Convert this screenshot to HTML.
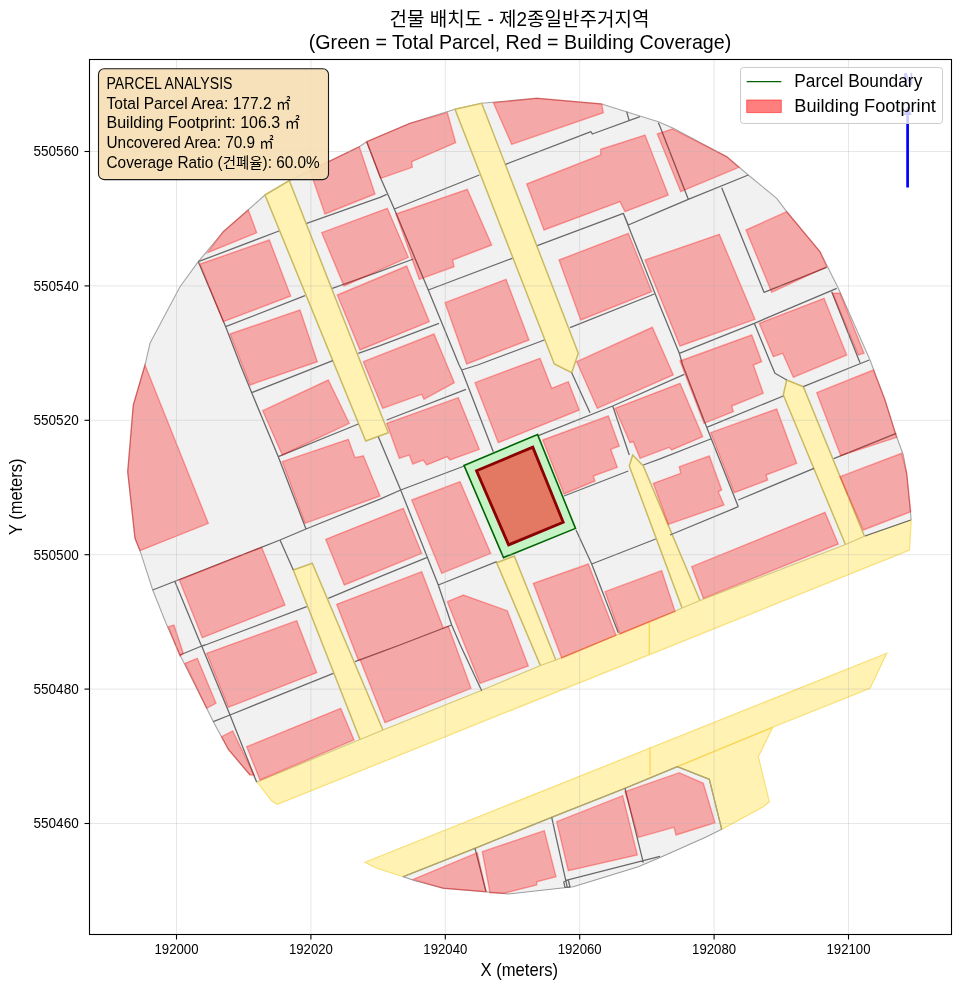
<!DOCTYPE html>
<html lang="ko"><head><meta charset="utf-8"><title>건물 배치도</title>
<style>
html,body{margin:0;padding:0;background:#fff;}
svg{display:block;will-change:transform;font-family:'Liberation Sans','Noto Sans CJK KR',sans-serif;}
text{fill:#000;}
</style></head><body>
<svg width="960" height="990" viewBox="0 0 960 990">
<rect width="960" height="990" fill="#fff"/>
<defs><clipPath id="ax"><rect x="89.5" y="59.5" width="862.0" height="875.0"/></clipPath></defs>
<g clip-path="url(#ax)">
<polygon points="250.0,775.0 228.3,749.3 213.3,721.7 206.7,708.3 180.0,655.0 166.0,623.3 152.7,590.0 140.0,550.7 135.0,538.3 127.7,471.7 133.3,405.0 145.0,365.0 150.0,343.3 180.0,286.7 198.3,261.7 223.3,231.7 265.0,195.0 289.3,180.7 359.3,146.7 366.7,141.7 410.0,123.3 455.0,109.3 481.7,103.3 536.7,98.3 601.7,104.0 658.3,121.7 673.3,128.3 726.7,156.7 748.3,175.0 776.7,198.3 786.7,211.7 820.0,251.7 838.3,288.3 870.0,360.0 885.0,400.0 896.0,435.0 903.3,455.0 906.7,473.3 911.2,520.0 911.2,520.0 864.5,536.2 845.5,544.5 700.0,600.5 682.0,608.0 675.0,611.2 617.5,634.5 555.8,660.0 540.5,665.5 481.2,690.5 383.0,730.0 360.0,739.5 257.0,782.0" fill="#f1f1f1"/>
<polyline points="250.0,775.0 228.3,749.3 213.3,721.7 206.7,708.3 180.0,655.0 166.0,623.3 152.7,590.0 140.0,550.7 135.0,538.3 127.7,471.7 133.3,405.0 145.0,365.0 150.0,343.3 180.0,286.7 198.3,261.7 223.3,231.7 265.0,195.0 289.3,180.7 359.3,146.7 366.7,141.7 410.0,123.3 455.0,109.3 481.7,103.3 536.7,98.3 601.7,104.0 658.3,121.7 673.3,128.3 726.7,156.7 748.3,175.0 776.7,198.3 786.7,211.7 820.0,251.7 838.3,288.3 870.0,360.0 885.0,400.0 896.0,435.0 903.3,455.0 906.7,473.3 911.2,520.0 911.2,520.0" fill="none" stroke="#a6a6a6" stroke-width="1.1"/>
<polygon points="365.0,862.3 886.7,653.3 870.0,688.3 772.7,727.3 677.3,766.7 625.0,788.3 551.7,817.3 475.0,848.3 403.3,876.7 376.7,868.3" fill="#fff2b2" stroke="#f8df76" stroke-width="1.2"/>
<polygon points="677.3,766.7 772.7,727.3 758.3,756.7 769.3,801.7 763.3,806.7 721.7,829.3 709.3,779.3" fill="#fff2b2" stroke="#f8df76" stroke-width="1.2"/>
<polyline points="677.3,766.7 772.7,727.3" fill="none" stroke="#f9d858" stroke-width="1.3"/>
<polygon points="403.3,876.7 415.0,880.7 443.3,888.3 485.0,891.7 508.3,894.0 573.3,886.7 638.3,866.7 661.7,856.7 706.7,836.7 721.7,829.3 709.3,779.3 677.3,766.7 625.0,788.3 551.7,817.3 475.0,848.3" fill="#f1f1f1" stroke="#9c9c9c" stroke-width="1.1"/>
<polyline points="721.7,829.3 709.3,779.3 677.3,766.7 625.0,788.3 551.7,817.3 475.0,848.3 403.3,876.7" fill="none" stroke="#b3a962" stroke-width="1.3"/>
<polygon points="265.0,195.0 289.3,180.7 388.3,432.7 365.7,441.0" fill="#fff2b2" stroke="#c9ba62" stroke-width="1.5"/>
<polygon points="455.0,109.3 481.7,103.3 578.3,353.3 571.7,372.7 554.3,364.0" fill="#fff2b2" stroke="#c9ba62" stroke-width="1.5"/>
<polygon points="293.3,570.0 312.3,563.3 384.1,732.8 361.1,742.3" fill="#fff2b2" stroke="#c9ba62" stroke-width="1.5"/>
<polygon points="496.7,562.7 514.3,556.0 556.9,662.8 541.6,668.3" fill="#fff2b2" stroke="#c9ba62" stroke-width="1.5"/>
<polygon points="632.7,455.0 643.3,466.0 701.1,603.3 683.1,610.8 629.3,466.0" fill="#fff2b2" stroke="#c9ba62" stroke-width="1.5"/>
<polygon points="786.7,380.0 803.3,386.7 865.6,539.0 846.6,547.3 783.3,395.0" fill="#fff2b2" stroke="#c9ba62" stroke-width="1.5"/>
<polygon points="257.0,782.0 360.0,739.5 383.0,730.0 481.2,690.5 540.5,665.5 555.8,660.0 617.5,634.5 675.0,611.2 682.0,608.0 700.0,600.5 845.5,544.5 864.5,536.2 911.2,520.0 909.5,550.0 277.3,804.3 271.7,801.0" fill="#fff2b2"/>
<polyline points="257.0,782.0 360.0,739.5 383.0,730.0 481.2,690.5 540.5,665.5 555.8,660.0 617.5,634.5 675.0,611.2 682.0,608.0 700.0,600.5 845.5,544.5 864.5,536.2 911.2,520.0" fill="none" stroke="#d6c978" stroke-width="1.2"/>
<polyline points="911.2,520.0 909.5,550.0 277.3,804.3 271.7,801.0 257.0,782.0" fill="none" stroke="#f8df76" stroke-width="1.2"/>
<path d="M649.3 622.5V654.5M650 747V775" stroke="#f9d858" stroke-width="1.3" fill="none"/>
<g fill="none" stroke="#6a6a6a" stroke-width="1.3" stroke-linejoin="round">
<path d="M198.3 261.7 L279.0 231.0 M198.3 261.7 L225.7 326.7 L240.4 365.0 M225.7 326.7 L305.0 295.7 M306.7 223.3 L380.0 197.3 M332.3 288.3 L380.0 271.4 M358.3 353.3 L380.0 345.6 M366.7 141.7 L380.7 178.3 L394.3 209.0 L428.3 290.0 L459.1 365.0 M380.0 197.3 L386.7 194.3 M394.3 209.0 L479.3 175.0 M380.0 271.4 L413.3 259.0 M428.3 290.0 L512.3 258.3 M380.0 345.6 L439.0 323.3 M477.6 365.0 L544.3 340.0 M505.7 164.3 L591.0 131.7 L592.3 134.0 L640.0 116.7 M626.7 111.7 L629.0 120.0 M658.3 122.7 L660.0 126.6 M537.3 245.7 L623.3 213.3 L628.3 225.0 L660.0 211.4 M623.3 213.3 L660.0 306.0 M570.0 327.7 L654.3 294.0 M660.0 126.6 L688.3 199.3 M660.0 211.4 L688.3 199.3 L748.3 175.0 M721.7 187.7 L764.0 292.3 L826.7 267.3 M660.0 306.0 L679.3 353.3 L682.7 365.0 M679.3 353.3 L754.3 323.3 L836.7 288.3 M754.3 323.3 L771.4 365.0 M831.7 291.7 L860.0 362.7 M856.8 365.0 L869.3 360.0 M240.4 365.0 L251.7 392.7 L278.3 456.7 L306.0 529.0 M251.7 392.7 L332.7 360.7 M278.3 456.7 L358.3 424.0 M306.0 529.0 L380.0 499.1 M152.7 590.0 L280.0 540.0 L306.0 529.0 M280.0 540.0 L293.3 570.0 M175.0 581.7 L201.1 645.0 M205.3 645.0 L306.7 606.7 M328.3 598.3 L380.0 576.7 M378.3 436.7 L380.0 440.7 M459.1 365.0 L461.7 370.0 L493.3 451.7 M461.7 370.0 L477.6 365.0 M386.7 420.0 L466.0 389.3 M380.0 440.7 L400.7 490.0 L438.3 585.0 L451.7 625.0 L460.3 645.0 M380.0 499.1 L400.7 490.0 L464.3 466.0 M380.0 576.7 L426.7 557.7 M438.3 585.0 L496.7 561.7 M399.8 645.0 L451.7 625.0 M538.3 435.7 L612.7 406.0 L684.3 374.3 M571.7 372.7 L590.0 412.7 M612.7 406.0 L629.3 455.0 M564.0 496.0 L628.3 471.0 M576.0 530.0 L591.7 564.0 L618.3 632.7 M591.7 564.0 L655.7 539.0 M643.3 465.0 L660.0 458.8 M682.7 365.0 L706.7 427.3 L738.3 506.7 M706.7 427.3 L783.3 396.0 M738.3 500.0 L814.0 468.3 M660.0 458.8 L710.7 439.0 M670.0 535.0 L738.3 506.7 M771.4 365.0 L775.0 373.3 L786.7 380.0 M803.3 386.7 L856.8 365.0 M833.7 458.7 L896.3 433.3 M865.0 536.0 L910.7 520.0 M201.1 645.0 L201.7 646.0 L230.0 715.0 L256.7 782.3 M180.0 655.0 L201.7 646.0 L205.3 645.0 M213.3 721.7 L230.0 715.0 L333.3 673.3 M355.0 661.7 L380.0 652.4 M380.0 652.4 L399.8 645.0 M460.3 645.0 L481.7 690.7 M475.0 848.3 L486.0 891.7 M551.7 817.3 L567.3 887.3 M563.7 881.7 L565.0 887.3 L570.0 887.0 L568.3 880.0 L563.7 881.7 M565.0 880.7 L643.3 860.7 L660.0 856.4 M625.0 788.3 L643.3 862.7"/>
</g>
<g fill="rgba(255,0,0,0.3)" stroke="rgba(255,0,0,0.33)" stroke-width="1.4" stroke-linejoin="miter">
<polygon points="248.3,210.0 256.7,232.7 207.7,252.7 223.3,231.7"/>
<polygon points="200.0,264.0 269.3,240.0 290.7,296.0 223.3,321.7"/>
<polygon points="230.0,334.0 300.0,310.0 317.3,361.7 250.0,385.0"/>
<polygon points="310.0,170.7 359.3,146.7 375.0,194.0 325.0,214.0"/>
<polygon points="321.7,232.7 387.3,208.3 408.3,257.3 344.0,286.0"/>
<polygon points="337.3,295.0 406.7,266.0 429.3,321.7 360.0,350.0"/>
<polygon points="366.7,141.7 410.0,123.3 447.3,112.7 455.7,142.7 411.7,161.7 412.3,167.3 380.7,178.3"/>
<polygon points="493.3,102.7 536.7,98.3 601.7,104.0 603.3,112.7 511.7,144.3"/>
<polygon points="396.0,214.0 467.3,189.3 491.7,245.0 452.7,260.0 454.0,266.7 419.3,279.3"/>
<polygon points="526.7,184.0 600.7,155.0 600.7,149.3 645.0,135.0 668.3,195.0 625.0,211.7 620.0,201.7 544.0,230.0"/>
<polygon points="445.0,302.7 506.0,279.3 529.0,340.0 466.7,364.0"/>
<polygon points="559.0,260.0 628.3,233.3 651.7,291.7 580.7,320.0"/>
<polygon points="657.3,134.0 672.3,129.0 726.7,156.7 739.0,167.3 680.7,191.7"/>
<polygon points="645.0,260.0 719.3,234.3 755.0,319.3 680.0,346.0"/>
<polygon points="746.0,230.0 786.7,211.7 820.0,251.7 826.7,266.7 771.7,292.3"/>
<polygon points="759.3,323.3 824.0,298.3 846.7,355.0 793.3,377.3 782.7,353.3 773.3,356.7"/>
<polygon points="832.7,293.3 840.0,293.3 864.0,353.3 858.3,355.0"/>
<polygon points="145.0,365.0 208.3,523.3 140.0,550.7 135.0,538.3 127.7,471.7 133.3,405.0"/>
<polygon points="262.7,410.7 328.3,380.0 349.3,423.3 282.3,455.0"/>
<polygon points="282.3,461.7 348.3,439.3 355.0,457.7 363.3,455.7 380.0,496.0 305.0,523.3"/>
<polygon points="179.3,580.0 261.7,547.3 285.0,605.0 202.3,637.7"/>
<polygon points="325.7,539.3 403.3,508.3 421.7,553.3 344.3,585.0"/>
<polygon points="168.3,626.7 174.0,625.0 183.3,653.3 180.0,656.0"/>
<polygon points="363.3,361.7 434.0,334.0 454.3,382.7 424.0,399.3 421.7,394.3 382.7,408.3"/>
<polygon points="475.0,382.7 540.0,358.3 551.7,388.3 568.3,381.7 579.3,410.0 498.3,442.7"/>
<polygon points="386.7,423.3 458.3,397.7 479.3,449.3 450.0,460.0 447.3,456.7 426.7,465.0 423.3,460.0 412.7,464.0 409.3,455.0 399.3,458.3"/>
<polygon points="411.7,500.0 460.0,481.7 490.7,553.3 441.7,573.3"/>
<polygon points="542.7,440.0 608.3,416.0 619.3,446.0 610.7,449.3 617.3,467.3 593.3,476.0 595.0,481.0 564.0,494.0"/>
<polygon points="576.7,361.7 652.3,327.3 673.3,375.0 597.3,408.3"/>
<polygon points="615.0,408.3 680.0,383.3 702.7,436.7 671.7,450.0 669.3,447.3 640.0,458.3 633.3,441.7 630.0,442.7"/>
<polygon points="447.3,601.7 463.3,595.0 507.3,610.7 528.3,666.0 480.0,683.3"/>
<polygon points="533.3,583.3 588.3,564.0 616.0,635.3 561.7,658.0"/>
<polygon points="605.0,591.7 661.7,570.7 675.0,611.3 620.0,634.0"/>
<polygon points="680.0,361.0 751.7,335.0 761.7,361.7 753.3,365.0 763.3,393.3 731.7,406.0 733.3,411.7 704.0,423.3"/>
<polygon points="710.7,432.7 776.7,409.0 796.7,463.3 766.0,475.0 767.7,480.0 734.3,492.7"/>
<polygon points="653.3,483.3 680.7,473.3 679.3,466.7 709.3,456.0 721.7,490.0 718.3,491.7 724.0,505.0 668.3,524.3"/>
<polygon points="691.7,566.7 825.0,512.3 838.3,544.0 703.3,598.3"/>
<polygon points="816.7,392.7 873.3,370.0 885.0,400.0 895.3,433.3 896.7,437.3 840.7,455.7"/>
<polygon points="840.0,476.7 901.7,453.3 906.7,473.3 910.7,511.7 863.3,530.0"/>
<polygon points="206.7,653.3 296.7,620.7 316.7,672.7 228.3,707.3"/>
<polygon points="185.0,663.3 197.3,658.3 216.0,703.3 206.7,708.3"/>
<polygon points="221.7,736.7 232.7,731.0 254.0,775.0 250.0,775.0 228.3,749.3"/>
<polygon points="246.7,746.7 340.7,708.3 354.0,740.0 260.0,780.0"/>
<polygon points="413.3,879.3 477.3,852.7 486.0,891.7 443.3,888.3"/>
<polygon points="482.3,851.7 544.3,830.7 556.0,876.7 536.7,881.7 536.7,885.0 504.0,893.3 490.0,892.7"/>
<polygon points="556.7,821.7 622.7,795.7 637.3,855.0 568.3,870.7"/>
<polygon points="625.0,791.7 679.3,772.7 703.3,783.3 715.0,822.7 676.0,835.0 674.0,827.3 638.3,837.3"/>
<polygon points="336.7,604.3 421.7,571.7 443.3,628.0 448.3,626.1 471.0,688.3 385.0,722.7 360.0,659.4 358.3,660.0"/>
</g>
<polygon points="464.0,465.4 537.6,434.6 575.5,528.4 503.5,557.6" fill="#c6f3c6" stroke="#006400" stroke-width="1.6" stroke-linejoin="miter"/>
<polygon points="476.5,470.7 532.8,447.2 563.2,522.2 508.6,544.9" fill="rgba(255,0,0,0.5)" stroke="#8b0000" stroke-width="2.8" stroke-linejoin="miter"/>
<g stroke="#b0b0b0" stroke-opacity="0.3" stroke-width="1">
<line x1="176.5" y1="59.5" x2="176.5" y2="934.5"/>
<line x1="310.9" y1="59.5" x2="310.9" y2="934.5"/>
<line x1="445.3" y1="59.5" x2="445.3" y2="934.5"/>
<line x1="579.7" y1="59.5" x2="579.7" y2="934.5"/>
<line x1="714.1" y1="59.5" x2="714.1" y2="934.5"/>
<line x1="848.5" y1="59.5" x2="848.5" y2="934.5"/>
<line x1="89.5" y1="151.5" x2="951.5" y2="151.5"/>
<line x1="89.5" y1="285.9" x2="951.5" y2="285.9"/>
<line x1="89.5" y1="420.3" x2="951.5" y2="420.3"/>
<line x1="89.5" y1="554.7" x2="951.5" y2="554.7"/>
<line x1="89.5" y1="689.1" x2="951.5" y2="689.1"/>
<line x1="89.5" y1="823.5" x2="951.5" y2="823.5"/>
</g>
<line x1="907.6" y1="187.5" x2="907.6" y2="110" stroke="#0000ff" stroke-width="2.7"/>
<polygon points="907.6,106.5 903.4,115 911.8,115" fill="#0000ff"/>
<text x="908.2" y="84.5" font-size="16.7" font-weight="bold" text-anchor="middle" textLength="10" lengthAdjust="spacingAndGlyphs" style="fill:#0000ff">N</text>
</g>
<rect x="89.5" y="59.5" width="862.0" height="875.0" fill="none" stroke="#000" stroke-width="1.1"/>
<g stroke="#000" stroke-width="1.1">
<line x1="176.5" y1="934.5" x2="176.5" y2="939.5"/>
<line x1="310.9" y1="934.5" x2="310.9" y2="939.5"/>
<line x1="445.3" y1="934.5" x2="445.3" y2="939.5"/>
<line x1="579.7" y1="934.5" x2="579.7" y2="939.5"/>
<line x1="714.1" y1="934.5" x2="714.1" y2="939.5"/>
<line x1="848.5" y1="934.5" x2="848.5" y2="939.5"/>
<line x1="84.5" y1="151.5" x2="89.5" y2="151.5"/>
<line x1="84.5" y1="285.9" x2="89.5" y2="285.9"/>
<line x1="84.5" y1="420.3" x2="89.5" y2="420.3"/>
<line x1="84.5" y1="554.7" x2="89.5" y2="554.7"/>
<line x1="84.5" y1="689.1" x2="89.5" y2="689.1"/>
<line x1="84.5" y1="823.5" x2="89.5" y2="823.5"/>
</g>
<g font-size="14.7">
<text x="176.5" y="953.5" text-anchor="middle" textLength="44" lengthAdjust="spacingAndGlyphs">192000</text>
<text x="310.9" y="953.5" text-anchor="middle" textLength="44" lengthAdjust="spacingAndGlyphs">192020</text>
<text x="445.3" y="953.5" text-anchor="middle" textLength="44" lengthAdjust="spacingAndGlyphs">192040</text>
<text x="579.7" y="953.5" text-anchor="middle" textLength="44" lengthAdjust="spacingAndGlyphs">192060</text>
<text x="714.1" y="953.5" text-anchor="middle" textLength="44" lengthAdjust="spacingAndGlyphs">192080</text>
<text x="848.5" y="953.5" text-anchor="middle" textLength="44" lengthAdjust="spacingAndGlyphs">192100</text>
<text x="78.7" y="156.4" text-anchor="end" textLength="45.2" lengthAdjust="spacingAndGlyphs">550560</text>
<text x="78.7" y="290.8" text-anchor="end" textLength="45.2" lengthAdjust="spacingAndGlyphs">550540</text>
<text x="78.7" y="425.2" text-anchor="end" textLength="45.2" lengthAdjust="spacingAndGlyphs">550520</text>
<text x="78.7" y="559.6" text-anchor="end" textLength="45.2" lengthAdjust="spacingAndGlyphs">550500</text>
<text x="78.7" y="694.0" text-anchor="end" textLength="45.2" lengthAdjust="spacingAndGlyphs">550480</text>
<text x="78.7" y="828.4" text-anchor="end" textLength="45.2" lengthAdjust="spacingAndGlyphs">550460</text>
</g>
<text x="519.3" y="976.2" font-size="17.7" text-anchor="middle" textLength="77.5" lengthAdjust="spacingAndGlyphs">X (meters)</text>
<text transform="translate(21.8,496.8) rotate(-90)" font-size="17.7" text-anchor="middle" textLength="76.5" lengthAdjust="spacingAndGlyphs">Y (meters)</text>
<text x="519.5" y="25.5" font-size="19.4" text-anchor="middle" textLength="260" lengthAdjust="spacingAndGlyphs">건물 배치도 - 제2종일반주거지역</text>
<text x="520" y="49.4" font-size="20.6" text-anchor="middle" textLength="422.5" lengthAdjust="spacingAndGlyphs">(Green = Total Parcel, Red = Building Coverage)</text>
<rect x="98.5" y="68.7" width="230" height="110.9" rx="5.6" ry="5.6" fill="#f5deb3" fill-opacity="0.9" stroke="#1a1a1a" stroke-width="1.1"/>
<g font-size="16.3">
<text x="106.5" y="88.8" textLength="126" lengthAdjust="spacingAndGlyphs">PARCEL ANALYSIS</text>
<text x="106.5" y="108.5" textLength="184" lengthAdjust="spacingAndGlyphs">Total Parcel Area: 177.2 <tspan font-size="15.3">㎡</tspan></text>
<text x="106.5" y="128.2" textLength="193.3" lengthAdjust="spacingAndGlyphs">Building Footprint: 106.3 <tspan font-size="15.3">㎡</tspan></text>
<text x="106.5" y="147.9" textLength="167.3" lengthAdjust="spacingAndGlyphs">Uncovered Area: 70.9 <tspan font-size="15.3">㎡</tspan></text>
<text x="106.5" y="167.6" textLength="213.3" lengthAdjust="spacingAndGlyphs">Coverage Ratio (<tspan font-size="15.3">건폐율</tspan>): 60.0%</text>
</g>
<rect x="740.5" y="67.5" width="202" height="56" rx="3" ry="3" fill="#fff" fill-opacity="0.8" stroke="#ccc" stroke-width="1"/>
<line x1="746.7" y1="81.7" x2="781.3" y2="81.7" stroke="#006400" stroke-width="1.2"/>
<rect x="746.7" y="100" width="34.6" height="12.6" fill="rgba(255,0,0,0.5)" stroke="rgba(255,0,0,0.5)" stroke-width="1"/>
<g font-size="17.7"><text x="794.3" y="86.6" textLength="128" lengthAdjust="spacingAndGlyphs">Parcel Boundary</text><text x="794.3" y="111.6" textLength="141.5" lengthAdjust="spacingAndGlyphs">Building Footprint</text></g>
</svg></body></html>
